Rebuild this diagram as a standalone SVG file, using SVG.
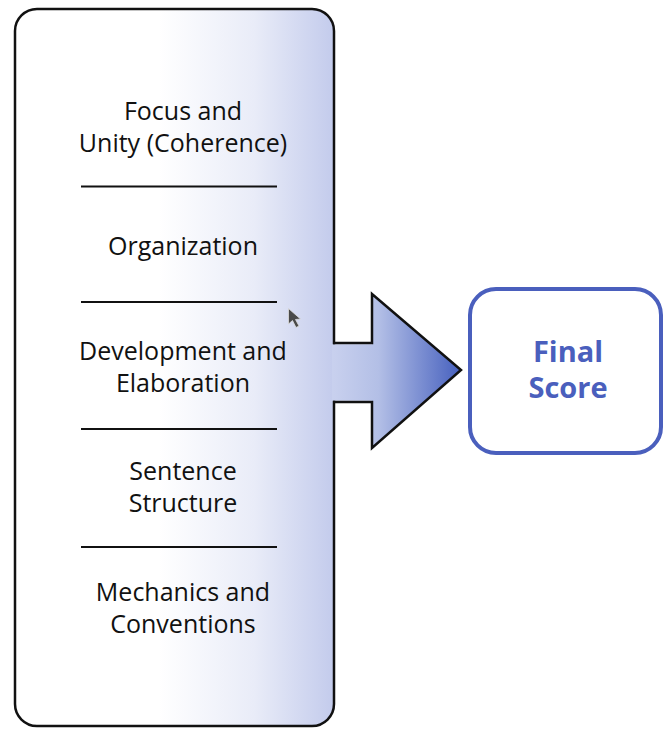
<svg xmlns="http://www.w3.org/2000/svg" width="671" height="730" viewBox="0 0 671 730">
  <defs>
    <linearGradient id="boxGrad" gradientUnits="userSpaceOnUse" x1="15" y1="0" x2="334" y2="0">
      <stop offset="0" stop-color="#ffffff"/>
      <stop offset="0.45" stop-color="#ffffff"/>
      <stop offset="0.75" stop-color="#e9ecf8"/>
      <stop offset="1" stop-color="#c3cbec"/>
    </linearGradient>
    <linearGradient id="arrowGrad" gradientUnits="userSpaceOnUse" x1="334" y1="0" x2="461" y2="0">
      <stop offset="0" stop-color="#c8d0ee"/>
      <stop offset="0.35" stop-color="#b3bfe6"/>
      <stop offset="1" stop-color="#4660be"/>
    </linearGradient>
    <style>
      .lbl { font-family: "Open Sans", "Noto Sans", "DejaVu Sans", sans-serif; font-size: 25px; fill: #111111; text-anchor: middle; }
      .div { stroke: #111111; stroke-width: 2.2; }
      .final { font-family: "Open Sans", "Noto Sans", "DejaVu Sans", sans-serif; font-size: 29px; font-weight: bold; fill: #4a5fbd; text-anchor: middle; }
    </style>
  </defs>

  <g id="criteria-box">
    <rect x="15" y="9" width="319" height="717" rx="22" ry="22" fill="url(#boxGrad)" stroke="#111111" stroke-width="2.5"/>
    <line class="div" x1="81" y1="186.5" x2="277" y2="186.5"/>
    <line class="div" x1="81" y1="302" x2="277" y2="302"/>
    <line class="div" x1="81" y1="429" x2="277" y2="429"/>
    <line class="div" x1="81" y1="547" x2="277" y2="547"/>
    <text class="lbl" x="183" y="120">Focus and</text>
    <text class="lbl" x="183" y="151.5">Unity (Coherence)</text>
    <text class="lbl" x="183" y="255">Organization</text>
    <text class="lbl" x="183" y="360">Development and</text>
    <text class="lbl" x="183" y="391.5">Elaboration</text>
    <text class="lbl" x="183" y="480">Sentence</text>
    <text class="lbl" x="183" y="511.5">Structure</text>
    <text class="lbl" x="183" y="601">Mechanics and</text>
    <text class="lbl" x="183" y="632.5">Conventions</text>
  </g>

  <g id="connectors">
    <polygon points="332,344.3 372,344.3 372,294 461,370 372,448 372,400.7 332,400.7" fill="url(#arrowGrad)" stroke="none"/>
    <polyline points="333,343 372,343 372,294 461,370 372,448 372,402 333,402" fill="none" stroke="#111111" stroke-width="2.5" stroke-linejoin="miter"/>
  </g>

  <g id="final-score">
    <rect x="470" y="289" width="191" height="164" rx="26" ry="26" fill="#ffffff" stroke="#4a5fbd" stroke-width="4"/>
    <text class="final" x="568" y="362">Final</text>
    <text class="final" x="568" y="398">Score</text>
  </g>

  <g id="cursor">
    <polygon points="288.5,308.5 288.5,324 292.5,320.5 296,327.5 299,326 295.5,319.5 300.5,319" fill="#4a4a4a" stroke="#dddddd" stroke-width="0.8"/>
  </g>
</svg>
